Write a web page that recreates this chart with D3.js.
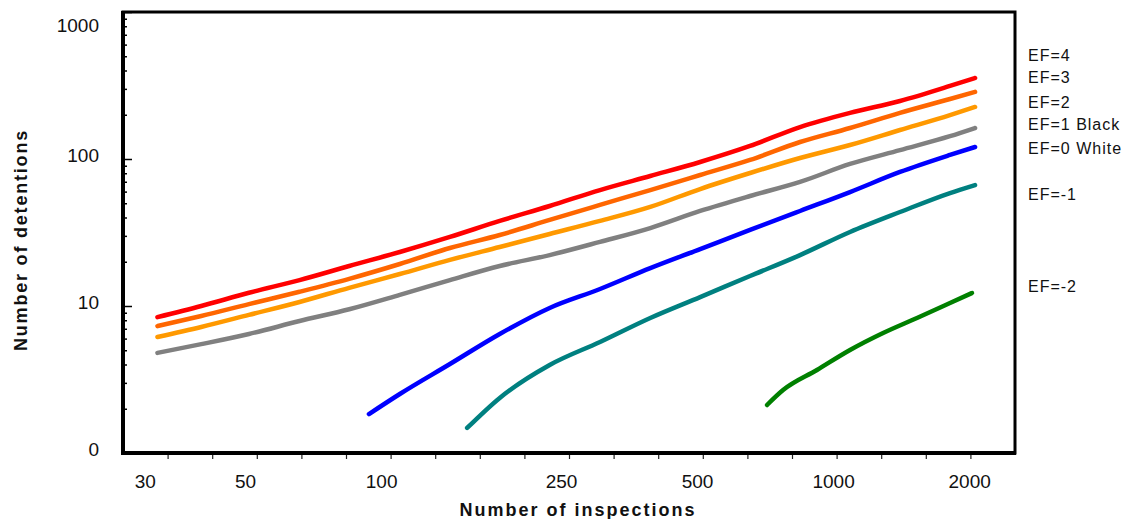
<!DOCTYPE html>
<html>
<head>
<meta charset="utf-8">
<script src="https://cdn.jsdelivr.net/npm/d3@7"></script>
<style>
body { margin: 0; background: #fff; }
</style>
</head>
<body>
<script>

// inspections (x) and detentions (y)
var inspTop = [32, 40, 51, 66, 85, 110, 142, 183, 236, 305, 394, 508, 655, 845, 1090, 1406, 1814, 2061];
var ef4 = [8.4, 10.0, 12.3, 15.0, 18.7, 23.3, 29.5, 37.9, 47.9, 61.5, 76.6, 95.4, 122.6, 165, 206, 248, 314, 356];
var ef3 = [7.3, 8.55, 10.3, 12.5, 15.3, 19.3, 24.8, 30.4, 38.5, 48.7, 61.5, 77.8, 98.5, 130.5, 162.5, 206, 256, 286];
var ef2 = [6.15, 7.2, 8.7, 10.65, 13.3, 16.5, 20.6, 25.2, 30.9, 37.9, 47.2, 62.5, 80.3, 101.6, 124.5, 157.5, 199, 226];
var ef1 = [4.8, 5.5, 6.45, 7.9, 9.5, 11.9, 15.0, 18.7, 22.2, 27.3, 33.9, 44.3, 56.0, 69.8, 92.5, 115, 143, 162.5];

var inspEF0 = [94, 110, 142, 183, 236, 305, 394, 508, 655, 845, 1090, 1406, 1814, 2061];
var ef0 = [1.84, 2.52, 4.03, 6.45, 9.7, 13.05, 18.1, 24.4, 32.9, 44.3, 59.6, 81.6, 106.5, 120.7];

var inspEFm1 = [155, 183, 236, 305, 394, 508, 655, 845, 1090, 1406, 1814, 2061];
var efm1 = [1.48, 2.37, 3.97, 5.69, 8.29, 11.5, 16.0, 22.2, 31.9, 43.6, 58.7, 66.5];

var inspEFm2 = [714, 775, 921, 1090, 1290, 1533, 1814, 2029];
var efm2 = [2.12, 2.68, 3.67, 5.02, 6.55, 8.29, 10.48, 12.26];

var seriesNames = ["EF=4", "EF=3", "EF=2", "EF=1 Black", "EF=0 White", "EF=-1", "EF=-2"];
var seriesColors = ["#ff0000", "#ff6600", "#ff9900", "#808080", "#0000ff", "#008080", "#008000"];

var xTickValues = [30, 50, 100, 250, 500, 1000, 2000];
var yTickValues = [1, 10, 100, 1000];
var yTickLabels = ["0", "10", "100", "1000"];

var series = [
  {x: inspTop, y: ef4},
  {x: inspTop, y: ef3},
  {x: inspTop, y: ef2},
  {x: inspTop, y: ef1},
  {x: inspEF0, y: ef0},
  {x: inspEFm1, y: efm1},
  {x: inspEFm2, y: efm2}
].map(function(s, i) {
  return {
    name: seriesNames[i],
    color: seriesColors[i],
    values: s.x.map(function(v, j) { return [v, s.y[j]]; })
  };
});

// layout
var margin = {top: 12, right: 117, bottom: 66, left: 123},
width = 1132 - margin.left - margin.right,
height = 519 - margin.top - margin.bottom;
var legendBaseline = [61, 83, 108, 130, 154, 200, 292];
var font = "'Liberation Sans', Arial, sans-serif";

var xScale = d3.scaleLog()
    .domain([26.85, 2526])
    .range([0, width]);

var yScale = d3.scaleLog()
    .domain([1, 1000])
    .range([height, 0]);

// evenly spaced tick marks along the bottom
var xTickScale = d3.scaleLinear()
    .domain([0, 20])
    .range([0, width]);

var svg = d3.select("body").append("svg")
    .attr("width", width + margin.left + margin.right)
    .attr("height", height + margin.top + margin.bottom)
    .append("g")
    .attr("transform", "translate(" + margin.left + "," + margin.top + ")");

// frame
svg.append("rect")
    .attr("width", width)
    .attr("height", height)
    .attr("fill", "none")
    .attr("stroke", "#000")
    .attr("stroke-width", 3);

svg.append("line")
    .attr("x1", 0).attr("x2", 0)
    .attr("y1", -1).attr("y2", height + 2)
    .attr("stroke", "#000")
    .attr("stroke-width", 4);

svg.append("line")
    .attr("x1", 0).attr("x2", width + 1)
    .attr("y1", height).attr("y2", height)
    .attr("stroke", "#000")
    .attr("stroke-width", 4);

// x tick marks
var xMarks = svg.append("g")
    .attr("transform", "translate(0," + (height + 2) + ")")
    .call(d3.axisBottom(xTickScale)
      .tickValues(d3.range(1, 20))
      .tickSizeInner(4)
      .tickSizeOuter(0)
      .tickFormat(""));
xMarks.select(".domain").remove();
xMarks.selectAll("line").attr("stroke", "#222").attr("stroke-width", 1.2);

// x labels
var xAxis = svg.append("g")
    .attr("transform", "translate(0," + height + ")")
    .call(d3.axisBottom(xScale)
      .tickValues(xTickValues)
      .tickSize(0)
      .tickPadding(22)
      .tickFormat(d3.format("d")));
xAxis.select(".domain").remove();
xAxis.selectAll("text")
    .attr("font-family", font)
    .attr("font-size", "19px")
    .attr("fill", "#111");

// y minor ticks
var minorY = [];
[1, 10, 100].forEach(function(dec) {
  for (var k = 2; k <= 9; k++) minorY.push(dec * k);
});

var yMinor = svg.append("g")
    .call(d3.axisLeft(yScale)
      .tickValues(minorY)
      .tickSizeInner(-4)
      .tickSizeOuter(0)
      .tickFormat(""));
yMinor.select(".domain").remove();
yMinor.selectAll("line").attr("stroke", "#000").attr("stroke-width", 1.5);

// y major ticks + labels
var yAxis = svg.append("g")
    .call(d3.axisLeft(yScale)
      .tickValues(yTickValues)
      .tickSizeInner(-9)
      .tickSizeOuter(0)
      .tickPadding(24)
      .tickFormat(function(d, i) { return yTickLabels[i]; }));
yAxis.select(".domain").remove();
yAxis.selectAll("line").attr("stroke", "#000").attr("stroke-width", 1.5);
yAxis.selectAll("text")
    .attr("font-family", font)
    .attr("font-size", "19px")
    .attr("fill", "#111")
    .attr("y", function(d) { return d === 1000 ? 13 : -4; });

// lines
var line = d3.line()
    .curve(d3.curveMonotoneX)
    .x(function(d) { return xScale(d[0]); })
    .y(function(d) { return yScale(d[1]); });

svg.selectAll(".series")
    .data(series)
    .enter().append("path")
    .attr("class", "series")
    .attr("d", function(d) { return line(d.values); })
    .attr("fill", "none")
    .attr("stroke", function(d) { return d.color; })
    .attr("stroke-width", 4.5)
    .attr("stroke-linejoin", "round")
    .attr("stroke-linecap", "round");

// labels at right
svg.selectAll(".lbl")
    .data(series)
    .enter().append("text")
    .attr("class", "lbl")
    .attr("x", width + 13)
    .attr("y", function(d, i) { return legendBaseline[i] - margin.top; })
    .attr("font-family", font)
    .attr("font-size", "16px")
    .attr("letter-spacing", "1px")
    .attr("fill", "#111")
    .text(function(d) { return d.name; });

// axis titles
svg.append("text")
    .attr("x", 578 - margin.left)
    .attr("y", 516 - margin.top)
    .style("text-anchor", "middle")
    .attr("font-family", font)
    .attr("font-size", "18px")
    .attr("font-weight", "bold")
    .attr("letter-spacing", "2px")
    .attr("fill", "#111")
    .text("Number of inspections");

svg.append("text")
    .attr("transform", "translate(" + (27 - margin.left) + "," + (240 - margin.top) + ") rotate(-90)")
    .style("text-anchor", "middle")
    .attr("font-family", font)
    .attr("font-size", "18px")
    .attr("font-weight", "bold")
    .attr("letter-spacing", "1.8px")
    .attr("fill", "#111")
    .text("Number of detentions");

</script>
</body>
</html>
